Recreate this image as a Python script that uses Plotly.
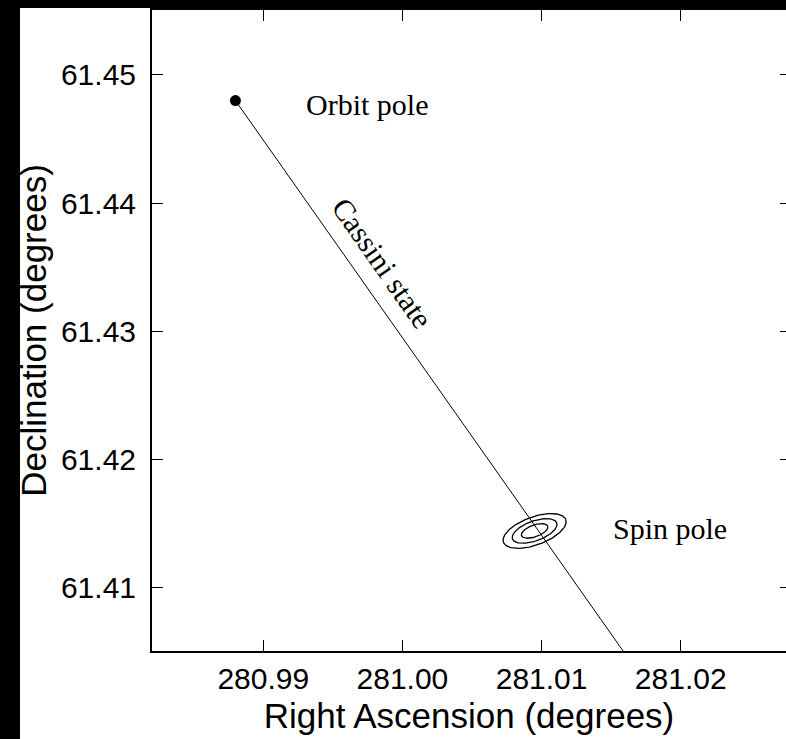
import numpy as np
import plotly.graph_objects as go

# ---- data ----
orbit_pole_ra = [280.988]
orbit_pole_dec = [61.448]

spin_pole_ra = 281.0095
spin_pole_dec = 61.4144

# Cassini state line: from orbit pole through spin pole, continued
cassini_ra = [280.988, 281.0162]
cassini_dec = [61.448, 61.4045]

# confidence ellipse of spin pole (data units)
ell_major = [0.002241, 0.000887]   # semi-major vector (RA, Dec) of outermost contour
ell_minor = [0.000344, -0.001027]  # semi-minor vector
ell_levels = [0.42, 0.71, 1.0]     # relative contour sizes

x_ticks = [280.99, 281.00, 281.01, 281.02]
x_ticktext = ["280.99", "281.00", "281.01", "281.02"]
y_ticks = [61.41, 61.42, 61.43, 61.44, 61.45]
y_ticktext = ["61.41", "61.42", "61.43", "61.44", "61.45"]

labels = ["Orbit pole", "Spin pole", "Cassini state"]
label_ra = [280.99743, 281.01922, 280.9986]
label_dec = [61.44766, 61.41463, 61.4353]
label_angle = [0, 0, 55]

x_range = [280.982004, 281.027565]
y_range = [61.405027, 61.455074]

# ---- figure ----
fig = go.Figure()

fig.add_trace(go.Scatter(x=cassini_ra, y=cassini_dec, mode="lines",
                         line=dict(color="black", width=1), showlegend=False,
                         hoverinfo="skip"))

t = np.linspace(0, 2 * np.pi, 200)
for s in ell_levels:
    ex = spin_pole_ra + s * (ell_major[0] * np.cos(t) + ell_minor[0] * np.sin(t))
    ey = spin_pole_dec + s * (ell_major[1] * np.cos(t) + ell_minor[1] * np.sin(t))
    fig.add_trace(go.Scatter(x=ex, y=ey, mode="lines",
                             line=dict(color="black", width=1.3), showlegend=False,
                             hoverinfo="skip"))

fig.add_trace(go.Scatter(x=orbit_pole_ra, y=orbit_pole_dec, mode="markers",
                         marker=dict(color="black", size=11), showlegend=False))

# invisible trace to carry right-side tick axis
fig.add_trace(go.Scatter(x=orbit_pole_ra, y=orbit_pole_dec, yaxis="y2", mode="markers",
                         marker=dict(opacity=0), showlegend=False, hoverinfo="skip"))

for txt, ax_, ay_, ang in zip(labels, label_ra, label_dec, label_angle):
    fig.add_annotation(x=ax_, y=ay_, text=txt, showarrow=False, textangle=ang,
                       xanchor="center", yanchor="middle",
                       font=dict(family="Liberation Serif", size=30, color="black"))

W, H = 786, 739
ml, mr, mt, mb = 152, 0, 10, 88
pw, ph = W - ml - mr, H - mt - mb

# black border strips (page edges)
fig.add_shape(type="rect", xref="paper", yref="paper",
              x0=-ml / pw, x1=(20 - ml) / pw, y0=-mb / ph, y1=1 + mt / ph,
              fillcolor="black", line=dict(width=0), layer="above")
fig.add_shape(type="rect", xref="paper", yref="paper",
              x0=-ml / pw, x1=1 + 5 / pw, y0=1 + 2 / ph, y1=1 + mt / ph,
              fillcolor="black", line=dict(width=0), layer="above")

axis_font = dict(family="Liberation Sans", size=30, color="black")
title_font = dict(family="Liberation Sans", size=35, color="black")

fig.update_layout(
    width=W, height=H,
    margin=dict(l=ml, r=mr, t=mt, b=mb, pad=0),
    paper_bgcolor="white", plot_bgcolor="white",
    xaxis=dict(range=x_range, tickvals=x_ticks, ticktext=x_ticktext,
               ticks="inside", ticklen=11, tickwidth=1, tickcolor="black",
               showline=True, linewidth=2, linecolor="black", mirror="ticks",
               showgrid=False, zeroline=False, tickfont=axis_font,
               ticklabelstandoff=0,
               title=dict(text="Right Ascension (degrees)", font=title_font, standoff=9)),
    yaxis=dict(range=y_range, tickvals=y_ticks, ticktext=y_ticktext,
               ticks="inside", ticklen=11, tickwidth=1, tickcolor="black",
               showline=True, linewidth=2, linecolor="black", mirror=False,
               showgrid=False, zeroline=False, tickfont=axis_font,
               ticklabelstandoff=8,
               title=dict(text="Declination (degrees)", font=title_font, standoff=4)),
    yaxis2=dict(range=y_range, tickvals=y_ticks, overlaying="y", side="right",
                ticks="inside", ticklen=6, tickwidth=1, tickcolor="black",
                showline=False, showgrid=False, zeroline=False, showticklabels=False),
)

fig.write_html("out.html")
